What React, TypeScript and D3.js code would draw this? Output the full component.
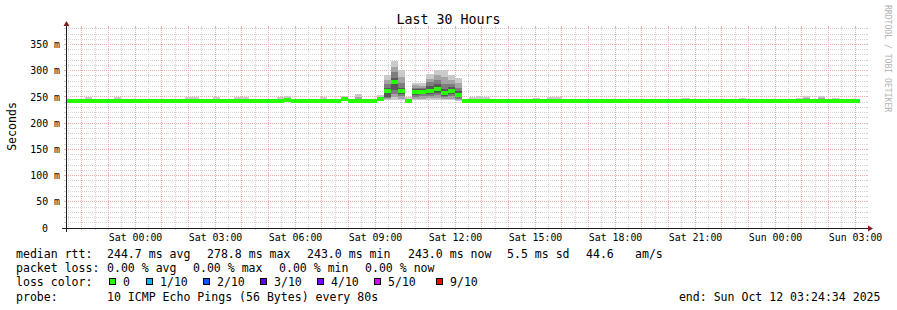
import React from 'react';
import * as d3 from 'd3';

const WIDTH = 897;
const HEIGHT = 310;

const TITLE = 'Last 30 Hours';
const Y_TITLE = 'Seconds';
const WATERMARK = 'RRDTOOL / TOBI OETIKER';

// time axis: minutes counted from graph start (Fri 21:24:34)
const SPAN_MIN = 1800;
const START_CLOCK_MIN = 21 * 60 + 24 + 34 / 60; // clock minutes since Fri 00:00
const BAR_MIN = 16;
const FIRST_BAR_START = -5;

const xLabelText = ['Sat 00:00', 'Sat 03:00', 'Sat 06:00', 'Sat 09:00', 'Sat 12:00', 'Sat 15:00', 'Sat 18:00', 'Sat 21:00', 'Sun 00:00', 'Sun 03:00'];
const xLabelClock = [1440, 1620, 1800, 1980, 2160, 2340, 2520, 2700, 2880, 3060];

const Y_MAX = 381.5;
const yTickValues = [0, 50, 100, 150, 200, 250, 300, 350];
const yTickLabels = ['0', '50 m', '100 m', '150 m', '200 m', '250 m', '300 m', '350 m'];

// median RTT per 16-minute bar (ms)
const medianMs = [
  243, 243, 243, 243, 243, 243, 243, 243, 243, 243, 243, 243, 243, 243, 243, 243,
  243, 243, 243, 243, 243, 243, 243, 243, 243, 243, 243, 243, 243, 243, 243, 245,
  243, 243, 243, 243, 243, 243, 243, 246, 243, 243, 243, 243, 245.5, 260.5, 279, 261,
  242.5, 260, 260, 262, 265, 257, 262, 254, 243, 243, 243, 243, 243, 243, 243, 243,
  243, 243, 243, 243, 243, 243, 243, 243, 243, 243, 243, 243, 243, 243, 243, 243,
  243, 243, 243, 243, 243, 243, 243, 243, 243, 243, 243, 243, 243, 243, 243, 243,
  243, 243, 243, 243, 243, 243, 243, 243, 243, 243, 243, 243, 243, 243, 243, 243,
];

// typical sorted 10 pings for a quiet bar
const quietPings = [242.5, 243, 243, 243, 243, 243, 243, 243, 243.5, 244.5];

// bars with visible smoke and their sorted pings (ms)
const smokeBarIndex = [3, 7, 17, 18, 21, 24, 25, 30, 31, 36, 39, 41, 44, 45, 46, 47, 48, 49, 50, 51, 52, 53, 54, 55, 57, 58, 59, 66, 68, 69, 87, 95, 103, 104, 106, 108];
const smokeBarPings = [
  [242.5, 243, 243, 243, 243, 243, 243.5, 244, 245, 250],
  [242.5, 243, 243, 243, 243, 243, 243.5, 244, 245, 250],
  [242.5, 243, 243, 243, 243, 243, 243.5, 244, 245, 250],
  [242.5, 243, 243, 243, 243, 243, 243.5, 244, 245, 250],
  [242.5, 243, 243, 243, 243, 243, 243.5, 244, 245, 249],
  [242.5, 243, 243, 243, 243, 243, 243.5, 244, 245, 250],
  [242.5, 243, 243, 243, 243, 243, 243.5, 244, 245, 249],
  [242.5, 243, 243, 243, 243, 243, 243.5, 244, 245, 249],
  [243, 243.5, 244, 244.5, 245, 245.5, 246, 247, 248, 251],
  [242.5, 243, 243, 243, 243, 243, 243.5, 244, 245, 250],
  [243, 243.5, 244, 245, 245.5, 246.5, 247, 248, 249, 251],
  [243, 243, 243, 243, 243, 243, 244, 246, 249, 256],
  [243, 243.5, 244, 245, 245, 246, 247, 248, 250, 254],
  [244, 246, 248, 250, 258, 263, 268, 274, 283, 291],
  [244, 249, 255, 263, 275, 283, 286, 298, 308, 318],
  [244, 247, 251, 256, 259, 263, 268, 276, 288, 302],
  [242, 242, 242.5, 242.5, 242.5, 242.5, 243, 244, 246, 250],
  [244, 246, 250, 254, 258, 262, 265, 268, 272, 276],
  [244, 247, 251, 255, 258, 262, 265, 268, 271, 276],
  [245, 248, 252, 256, 260, 264, 270, 278, 285, 294],
  [245, 248, 253, 258, 262, 268, 274, 282, 292, 302],
  [244, 246, 249, 252, 255, 259, 265, 275, 288, 301],
  [244, 247, 251, 256, 260, 264, 269, 275, 283, 292],
  [243, 245, 247, 250, 252, 256, 262, 268, 277, 286],
  [242.5, 243, 243, 243, 243, 243, 243.5, 244, 245, 249],
  [242.5, 243, 243, 243, 243, 243, 243.5, 244, 247, 251],
  [242.5, 243, 243, 243, 243, 243, 243.5, 244, 245, 249],
  [242.5, 243, 243, 243, 243, 243, 243.5, 244, 245, 248],
  [242.5, 243, 243, 243, 243, 243, 243.5, 244, 245, 249],
  [242.5, 243, 243, 243, 243, 243, 243.5, 244, 245, 249],
  [242.5, 243, 243, 243, 243, 243, 243.5, 244, 245, 248],
  [242.5, 243, 243, 243, 243, 243, 243.5, 244, 245, 248],
  [242.5, 243, 243, 243, 243, 243, 243.5, 244, 245, 247.5],
  [242.5, 243, 243, 243, 243, 243, 243.5, 244, 248.5, 252],
  [242.5, 243, 243, 243, 243, 243, 243.5, 244, 248.5, 252],
  [242.5, 243, 243, 243, 243, 243, 243.5, 244, 245, 248],
];

const smokeColors = ['#cacaca', '#a4a4a4', '#7e7e7e', '#585858', '#323232'];
const MEDIAN_COLOR = '#26ff00';

const lossLabels = ['0', '1/10', '2/10', '3/10', '4/10', '5/10', '9/10'];
const lossColors = ['#26ff00', '#00b8ff', '#0059ff', '#5e00ff', '#7e00ff', '#dd00ff', '#ff0000'];
const lossBoxX = [109, 146, 203, 260, 317, 374, 436];

const rttItems = ['244.7 ms avg', '278.8 ms max', '243.0 ms min', '243.0 ms now', '5.5 ms sd', '44.6', 'am/s'];
const rttItemX = [107, 207, 307, 408, 507, 586, 635];
const lossItems = ['0.00 % avg', '0.00 % max', '0.00 % min', '0.00 % now'];
const lossItemX = [107, 193, 279, 365];
const PROBE_TEXT = '10 ICMP Echo Pings (56 Bytes) every 80s';
const END_TEXT = 'end: Sun Oct 12 03:24:34 2025';

const MONO = "'DejaVu Sans Mono', monospace";
const GRID = '#d2d2d2';
const MGRID = '#f3acac';
const AXIS = '#1f1f1f';
const ARROW = '#801f1f';

export default function App() {
  const X0 = 66, X1 = 866, Y0 = 228, Y1 = 28;
  const x = d3.scaleLinear().domain([0, SPAN_MIN]).range([X0, X1]);
  const y = d3.scaleLinear().domain([0, Y_MAX]).range([Y0, Y1]);
  const px = (v: number) => Math.round(v - 0.5) + 0.5;

  const vLines: { xp: number; major: boolean }[] = [];
  for (let c = Math.ceil(START_CLOCK_MIN / 30) * 30; c < START_CLOCK_MIN + SPAN_MIN; c += 30) {
    vLines.push({ xp: px(x(c - START_CLOCK_MIN)), major: c % 60 === 0 });
  }
  const hLines: { yp: number; major: boolean }[] = [];
  for (let v = 10; v <= Y_MAX; v += 10) {
    hLines.push({ yp: px(y(v)), major: v % 50 === 0 });
  }

  const bars = medianMs.map((m, i) => {
    const t0 = FIRST_BAR_START + i * BAR_MIN;
    const t1 = t0 + BAR_MIN;
    const k = smokeBarIndex.indexOf(i);
    const pings = k >= 0 ? smokeBarPings[k] : quietPings;
    return { t0: Math.max(0, t0), t1: Math.min(SPAN_MIN, t1), median: m, pings };
  });

  const legendY = [257.5, 272, 286, 300.5];

  return (
    <svg width={WIDTH} height={HEIGHT} style={{ position: 'absolute', left: 0, top: 0, background: '#fff' }}
      xmlns="http://www.w3.org/2000/svg">
      <rect x={0} y={0} width={WIDTH} height={HEIGHT} fill="#ffffff" />
      <g shapeRendering="crispEdges" strokeWidth={1}>
        {hLines.map((l, i) => (
          <g key={'h' + i} stroke={l.major ? MGRID : GRID}>
            <line x1={X0 - 2} x2={X0} y1={l.yp} y2={l.yp} />
            <line x1={X1} x2={X1 + 2} y1={l.yp} y2={l.yp} />
            <line x1={X0} x2={X1} y1={l.yp} y2={l.yp} strokeDasharray="1,1" />
          </g>
        ))}
        {vLines.map((l, i) => (
          <g key={'v' + i} stroke={l.major ? MGRID : GRID}>
            <line x1={l.xp} x2={l.xp} y1={Y1 - 2} y2={Y1} />
            <line x1={l.xp} x2={l.xp} y1={Y0} y2={Y0 + 2} />
            <line x1={l.xp} x2={l.xp} y1={Y1} y2={Y0} strokeDasharray="1,1" />
          </g>
        ))}
      </g>
      <g shapeRendering="crispEdges">
        {bars.map((b, i) => {
          const xa = Math.round(x(b.t0));
          const xb = Math.round(x(b.t1));
          return (
            <g key={'b' + i}>
              {smokeColors.map((c, j) => {
                const top = Math.round(y(b.pings[9 - j]));
                const bot = Math.round(y(b.pings[j]));
                if (bot - top < 1) return null;
                return <rect key={j} x={xa} width={xb - xa} y={top} height={bot - top} fill={c} />;
              })}
            </g>
          );
        })}
        {bars.map((b, i) => {
          const xa = Math.round(x(b.t0));
          const xb = Math.round(x(b.t1));
          const yc = y(b.median);
          return <rect key={'m' + i} x={xa} width={xb - xa} y={Math.round(yc - 2)} height={4} fill={MEDIAN_COLOR} />;
        })}
      </g>
      <g shapeRendering="crispEdges" stroke={AXIS} strokeWidth={1}>
        <line x1={X0 - 4} x2={X1 + 4} y1={Y0 + 0.5} y2={Y0 + 0.5} />
        <line x1={X0 + 0.5} x2={X0 + 0.5} y1={Y0 + 4} y2={Y1 - 4} />
      </g>
      <polygon points={`${X1 + 2},${Y0 - 3 + 0.5} ${X1 + 2},${Y0 + 3 + 0.5} ${X1 + 7},${Y0 + 0.5}`} fill={ARROW} />
      <polygon points={`${X0 - 3 + 0.5},${Y1 - 2} ${X0 + 3 + 0.5},${Y1 - 2} ${X0 + 0.5},${Y1 - 7}`} fill={ARROW} />
      <g fontFamily={MONO} fontSize={9.9} fill="#000">
        {yTickValues.map((v, i) => (
          <text key={'yl' + i} x={v === 0 ? 48 : 60} y={y(v) + 3.6} textAnchor="end">{yTickLabels[i]}</text>
        ))}
        {xLabelText.map((t, i) => (
          <text key={'xl' + i} x={x(xLabelClock[i] - START_CLOCK_MIN) + 0.5} y={240.5} textAnchor="middle">{t}</text>
        ))}
      </g>
      <text x={448.5} y={24} textAnchor="middle" fontFamily={MONO} fontSize={13.3} fill="#000">{TITLE}</text>
      <text transform={`translate(15.5, 126.5) rotate(-90)`} textAnchor="middle" fontFamily={MONO} fontSize={11.56} fill="#000">{Y_TITLE}</text>
      <text transform="translate(884.5, 5) rotate(90)" fontFamily={MONO} fontSize={8.1} fill="#b3b3b3">{WATERMARK}</text>
      <g fontFamily={MONO} fontSize={11.56} fill="#000">
        <text x={16} y={legendY[0]}>median rtt:</text>
        {rttItems.map((t, i) => <text key={'r' + i} x={rttItemX[i]} y={legendY[0]}>{t}</text>)}
        <text x={16} y={legendY[1]}>packet loss:</text>
        {lossItems.map((t, i) => <text key={'l' + i} x={lossItemX[i]} y={legendY[1]}>{t}</text>)}
        <text x={16} y={legendY[2]}>loss color:</text>
        {lossLabels.map((t, i) => (
          <g key={'lc' + i}>
            <rect x={lossBoxX[i] + 0.5} y={legendY[2] - 7.5} width={6} height={6} fill={lossColors[i]} stroke="#000" strokeWidth={1} shapeRendering="crispEdges" />
            <text x={lossBoxX[i] + 14} y={legendY[2]}>{t}</text>
          </g>
        ))}
        <text x={16} y={legendY[3]}>probe:</text>
        <text x={107} y={legendY[3]}>{PROBE_TEXT}</text>
        <text x={880.5} y={legendY[3]} textAnchor="end">{END_TEXT}</text>
      </g>
    </svg>
  );
}
